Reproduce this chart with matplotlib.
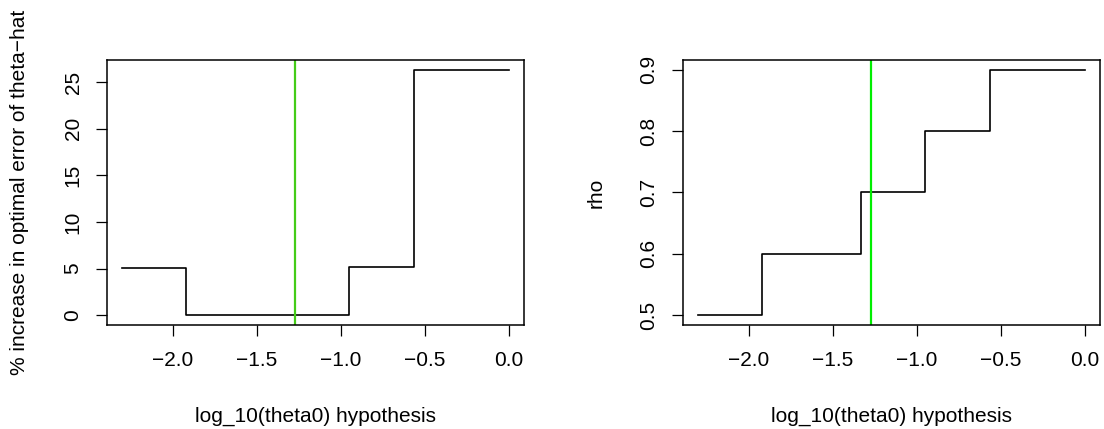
import matplotlib
matplotlib.use("Agg")
import matplotlib.pyplot as plt

# data
log_theta0 = [-2.301, -1.92, -1.33, -0.952, -0.565, 0.0]
pct_increase = [5.07, 0.0, 0.07, 5.15, 26.3, 26.3]
rho = [0.5, 0.6, 0.7, 0.8, 0.9, 0.9]
theta_hat_log = -1.274
x_ticks = [-2.0, -1.5, -1.0, -0.5, 0.0]
x_ticklabels = ["\u22122.0", "\u22121.5", "\u22121.0", "\u22120.5", "0.0"]
y1_ticks = [0, 5, 10, 15, 20, 25]
y2_ticks = [0.5, 0.6, 0.7, 0.8, 0.9]
xlabel = "log_10(theta0) hypothesis"
ylabel1 = "% increase in optimal error of theta\u2212hat"
ylabel2 = "rho"

plt.rcParams['font.family'] = ['Liberation Sans', 'DejaVu Sans']
FS = 15

W, H = 1104, 429
fig = plt.figure(figsize=(W / 100, H / 100), dpi=100)

def rng(lo, hi):
    d = (hi - lo) * 0.04
    return lo - d, hi + d

def make_ax(x0px, yvals, yticks, yticklabels, ylabel, green_col):
    ax = fig.add_axes([x0px / W, (H - 325) / H, 417.3 / W, 265 / H])
    ax.step(log_theta0, yvals, where='post', color='black', lw=1.2)
    ax.axvline(theta_hat_log, color=green_col, lw=1.6)
    ax.set_xlim(*rng(min(log_theta0), max(log_theta0)))
    ax.set_ylim(*rng(min(yvals), max(yvals)))
    ax.set_xticks(x_ticks)
    ax.set_xticklabels(x_ticklabels)
    ax.set_yticks(yticks)
    ax.set_yticklabels(yticklabels)
    for lab in ax.get_yticklabels():
        lab.set_rotation(90)
        lab.set_va('center')
    ax.tick_params(direction='out', length=7.9, width=0.9, labelsize=FS, color='black')
    ax.tick_params(axis='x', pad=10.5)
    ax.tick_params(axis='y', pad=9.5)
    for s in ax.spines.values():
        s.set_linewidth(1.1)
    ax.set_xlabel(xlabel, fontsize=FS)
    ax.xaxis.set_label_coords(0.5, (325 - 416.7) / 265)
    ax.xaxis.label.set_va('center')
    ax.set_ylabel(ylabel, fontsize=FS)
    ax.yaxis.set_label_coords(-0.208, 0.5)
    ax.yaxis.label.set_va('center')
    return ax

make_ax(106.7, pct_increase, y1_ticks, [str(v) for v in y1_ticks], ylabel1, '#44cc18')
make_ax(682.7, rho, y2_ticks, [f"{v:.1f}" for v in y2_ticks], ylabel2, '#00ee00')

fig.savefig("out.png", dpi=100)
